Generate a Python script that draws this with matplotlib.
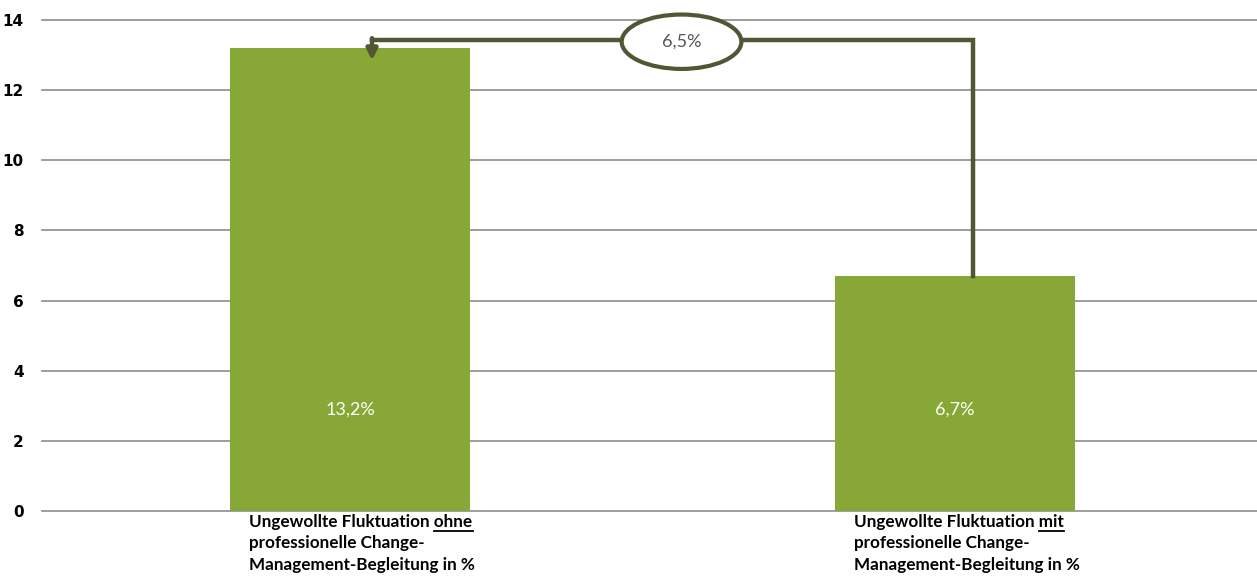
import matplotlib
matplotlib.use("Agg")
import matplotlib.pyplot as plt
from matplotlib.patches import Ellipse
import numpy as np

# Daten
kategorien = ["Ungewollte Fluktuation ohne\nprofessionelle Change-\nManagement-Begleitung in %",
              "Ungewollte Fluktuation mit\nprofessionelle Change-\nManagement-Begleitung in %"]
unterstrichen = ["ohne", "mit"]
werte = [13.2, 6.7]
wert_labels = ["13,2%", "6,7%"]
differenz_label = "6,5%"
yticks = [0, 2, 4, 6, 8, 10, 12, 14]

gruen = "#87a737"
oliv = "#4f5734"

fig = plt.figure(figsize=(12.57, 5.76), dpi=100)
ax = fig.add_axes([0.0334, 0.1128, 0.9666, 0.8525])

x = np.arange(len(werte))
ax.bar(x, werte, width=0.397, color=gruen, zorder=2)
ax.set_xlim(-0.51, 1.50)
ax.set_ylim(0, 14)
ax.set_yticks(yticks)
ax.set_yticklabels([str(t) for t in yticks], fontweight="bold", fontsize=11,
                   family="DejaVu Sans")
ax.tick_params(axis="y", length=0, pad=13)
ax.set_xticks([])
for s in ax.spines.values():
    s.set_visible(False)
for t in yticks:
    ax.axhline(t, color="#8c8c8c", lw=1.2, zorder=1, clip_on=False)

# Werte in den Balken
for xi, lab in zip(x, wert_labels):
    ax.text(xi, 2.9, lab, color="white", ha="center", va="center",
            fontsize=13, family="Lato")

# Klammer mit Pfeil
y_oben = max(werte) + 0.23
x_links = x[0] + 0.036
x_rechts = x[1] + 0.03
ax.plot([x_rechts, x_rechts, x_links], [werte[1], y_oben, y_oben],
        color=oliv, lw=3.2, solid_joinstyle="miter", clip_on=False, zorder=3)
ax.annotate("", xy=(x_links, werte[0] - 0.35), xytext=(x_links, y_oben + 0.05),
            arrowprops=dict(arrowstyle="-|>", color=oliv, lw=3.2,
                            mutation_scale=16, shrinkA=0, shrinkB=0),
            annotation_clip=False, zorder=3)
ell = Ellipse((0.548, y_oben - 0.05), 0.198, 1.55, facecolor="white",
              edgecolor=oliv, lw=3, clip_on=False, zorder=4)
ax.add_patch(ell)
ax.text(0.548, y_oben - 0.05, differenz_label, ha="center", va="center",
        fontsize=13, color="#555555", family="Lato", zorder=5)

# Kategorie-Beschriftungen mit Unterstreichung
fig.canvas.draw()
renderer = fig.canvas.get_renderer()
fs = 12.3
for xi, lab, wort in zip(x, kategorien, unterstrichen):
    txt = ax.text(xi + 0.02, -0.006, lab, ha="center", va="top", multialignment="left",
                  fontsize=fs, fontweight="bold", family="Lato",
                  linespacing=1.42, transform=ax.get_xaxis_transform(),
                  clip_on=False)
    bb = txt.get_window_extent(renderer)
    erste = lab.split("\n")[0]
    vor = erste[: erste.index(wort)]
    t1 = fig.text(0, 0, vor, fontsize=fs, fontweight="bold", family="Lato")
    t2 = fig.text(0, 0, erste, fontsize=fs, fontweight="bold", family="Lato")
    w1 = t1.get_window_extent(renderer).width
    w2 = t2.get_window_extent(renderer).width
    h = t2.get_window_extent(renderer).height
    t1.remove()
    t2.remove()
    y_line = bb.y1 - h - 1
    inv = fig.transFigure.inverted()
    p0 = inv.transform((bb.x0 + w1, y_line))
    p1 = inv.transform((bb.x0 + w2, y_line))
    fig.add_artist(plt.Line2D([p0[0], p1[0]], [p0[1], p1[1]], color="black",
                              lw=1.3, transform=fig.transFigure))

fig.savefig("out.png", dpi=100)
